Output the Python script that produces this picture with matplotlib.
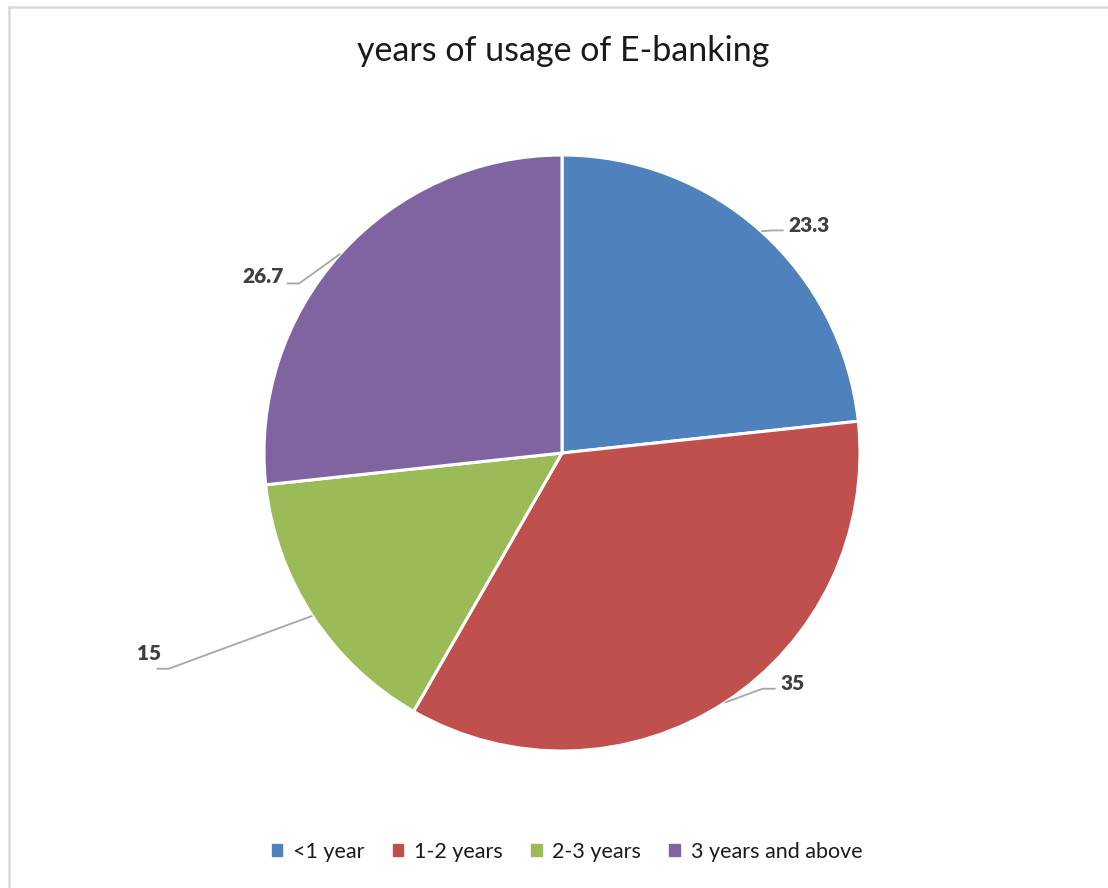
import numpy as np
import matplotlib.pyplot as plt
from matplotlib.lines import Line2D

categories = ['<1 year', '1-2 years', '2-3 years', '3 years and above']
values = [23.3, 35, 15, 26.7]
value_labels = ['23.3', '35', '15', '26.7']
colors = ['#4F81BD', '#C0504D', '#9BBB59', '#8064A2']

# label placement in pie-radius units: text anchor, alignment, leader elbow and end
label_pos = [(0.761, 0.763), (0.734, -0.772), (-1.387, -0.673), (-0.933, 0.591)]
label_ha = ['left', 'left', 'center', 'right']
leader_elbow = [(0.704, 0.747), (0.673, -0.791), (-1.320, -0.724), (-0.882, 0.569)]
leader_end = [(0.744, 0.747), (0.717, -0.791), (-1.360, -0.724), (-0.923, 0.569)]

plt.rcParams['font.family'] = ['Lato', 'DejaVu Sans']

W, H = 1108, 888
cx, cy, rad = 562, 453, 298

fig = plt.figure(figsize=(W / 100, H / 100), dpi=100)
ax = fig.add_axes([0, 0, 1, 1])

wedges, _ = ax.pie(values, colors=colors, startangle=90, counterclock=False,
                   radius=1.0, wedgeprops=dict(edgecolor='white', linewidth=2.2))

# pie() resets the limits, so fix the frame afterwards
ax.set_xlim(-cx / rad, (W - cx) / rad)
ax.set_ylim(-(H - cy) / rad, cy / rad)
ax.set_aspect('equal')
ax.axis('off')

for w, txt, pos, ha, elb, end in zip(wedges, value_labels, label_pos, label_ha,
                                     leader_elbow, leader_end):
    mid = np.deg2rad((w.theta1 + w.theta2) / 2)
    start = (np.cos(mid), np.sin(mid))
    xs = [start[0], elb[0], end[0]]
    ys = [start[1], elb[1], end[1]]
    ax.plot(xs, ys, color='#A6A6A6', linewidth=1.3, solid_capstyle='butt')
    ax.text(pos[0], pos[1], txt, ha=ha, va='center', fontsize=15,
            fontweight='heavy', color='#404040')

fig.text(563 / W, 1 - 51 / H, 'years of usage of E-banking', ha='center',
         va='center', fontsize=24.5, color='#1a1a1a')

handles = [plt.Rectangle((0, 0), 1, 1, color=c) for c in colors]
fig.legend(handles, categories, loc='center', bbox_to_anchor=(567 / W, 1 - 852 / H),
           ncol=4, frameon=False, fontsize=15.5, handlelength=0.5, handleheight=0.5,
           handletextpad=0.5, columnspacing=1.3, labelcolor='#1a1a1a')

# chart area border (top and left edges)
fig.add_artist(Line2D([8.5 / W, 1], [1 - 7.5 / H, 1 - 7.5 / H], color='#D9D9D9', linewidth=1.8))
fig.add_artist(Line2D([8.5 / W, 8.5 / W], [0, 1 - 7.5 / H], color='#D9D9D9', linewidth=1.8))

fig.savefig('out.png', dpi=100, facecolor='white')
